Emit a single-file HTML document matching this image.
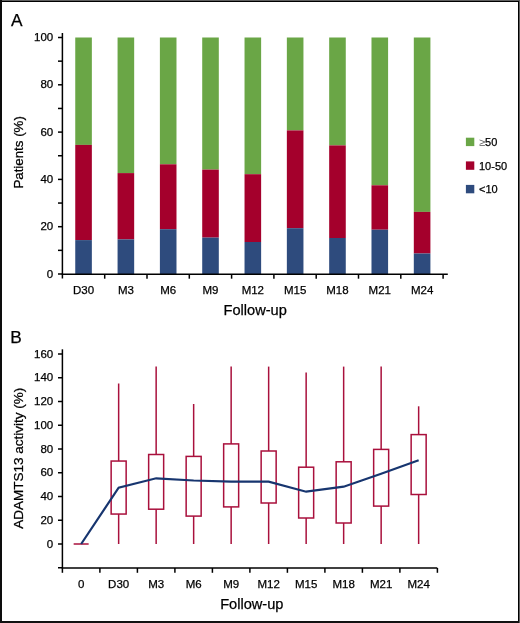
<!DOCTYPE html><html><head><meta charset="utf-8"><style>
html,body{margin:0;padding:0;background:#fff;}
body{width:520px;height:623px;overflow:hidden;position:relative;}
svg{position:absolute;left:0;top:0;will-change:transform;}
text{font-family:"Liberation Sans",sans-serif;fill:#000;stroke:#000;stroke-width:0.25px;}
</style></head><body>
<svg width="520" height="623" viewBox="0 0 520 623">
<rect x="0" y="0" width="520" height="623" fill="#fff"/>
<rect x="75.25" y="37.50" width="16.6" height="107.40" fill="#6aa646"/>
<rect x="75.25" y="144.90" width="16.6" height="95.20" fill="#a4002c"/>
<rect x="75.25" y="240.10" width="16.6" height="33.90" fill="#2e4b7d"/>
<rect x="117.57" y="37.50" width="16.6" height="135.60" fill="#6aa646"/>
<rect x="117.57" y="173.10" width="16.6" height="66.30" fill="#a4002c"/>
<rect x="117.57" y="239.40" width="16.6" height="34.60" fill="#2e4b7d"/>
<rect x="159.89" y="37.50" width="16.6" height="126.80" fill="#6aa646"/>
<rect x="159.89" y="164.30" width="16.6" height="64.90" fill="#a4002c"/>
<rect x="159.89" y="229.20" width="16.6" height="44.80" fill="#2e4b7d"/>
<rect x="202.21" y="37.50" width="16.6" height="132.10" fill="#6aa646"/>
<rect x="202.21" y="169.60" width="16.6" height="68.00" fill="#a4002c"/>
<rect x="202.21" y="237.60" width="16.6" height="36.40" fill="#2e4b7d"/>
<rect x="244.53" y="37.50" width="16.6" height="136.70" fill="#6aa646"/>
<rect x="244.53" y="174.20" width="16.6" height="67.80" fill="#a4002c"/>
<rect x="244.53" y="242.00" width="16.6" height="32.00" fill="#2e4b7d"/>
<rect x="286.85" y="37.50" width="16.6" height="92.90" fill="#6aa646"/>
<rect x="286.85" y="130.40" width="16.6" height="97.80" fill="#a4002c"/>
<rect x="286.85" y="228.20" width="16.6" height="45.80" fill="#2e4b7d"/>
<rect x="329.17" y="37.50" width="16.6" height="107.90" fill="#6aa646"/>
<rect x="329.17" y="145.40" width="16.6" height="92.60" fill="#a4002c"/>
<rect x="329.17" y="238.00" width="16.6" height="36.00" fill="#2e4b7d"/>
<rect x="371.49" y="37.50" width="16.6" height="147.80" fill="#6aa646"/>
<rect x="371.49" y="185.30" width="16.6" height="44.40" fill="#a4002c"/>
<rect x="371.49" y="229.70" width="16.6" height="44.30" fill="#2e4b7d"/>
<rect x="413.81" y="37.50" width="16.6" height="174.40" fill="#6aa646"/>
<rect x="413.81" y="211.90" width="16.6" height="41.60" fill="#a4002c"/>
<rect x="413.81" y="253.50" width="16.6" height="20.50" fill="#2e4b7d"/>
<g stroke="#000" stroke-width="1.5" fill="none">
<line x1="62.4" y1="33" x2="62.4" y2="278.5"/>
<line x1="61.699999999999996" y1="274.3" x2="447.8" y2="274.3"/>
<line x1="58" y1="274.00" x2="62.4" y2="274.00"/>
<line x1="58" y1="250.35" x2="62.4" y2="250.35"/>
<line x1="58" y1="226.70" x2="62.4" y2="226.70"/>
<line x1="58" y1="203.05" x2="62.4" y2="203.05"/>
<line x1="58" y1="179.40" x2="62.4" y2="179.40"/>
<line x1="58" y1="155.75" x2="62.4" y2="155.75"/>
<line x1="58" y1="132.10" x2="62.4" y2="132.10"/>
<line x1="58" y1="108.45" x2="62.4" y2="108.45"/>
<line x1="58" y1="84.80" x2="62.4" y2="84.80"/>
<line x1="58" y1="61.15" x2="62.4" y2="61.15"/>
<line x1="58" y1="37.50" x2="62.4" y2="37.50"/>
<line x1="104.70" y1="274.3" x2="104.70" y2="278.7"/>
<line x1="147.00" y1="274.3" x2="147.00" y2="278.7"/>
<line x1="189.30" y1="274.3" x2="189.30" y2="278.7"/>
<line x1="231.60" y1="274.3" x2="231.60" y2="278.7"/>
<line x1="273.90" y1="274.3" x2="273.90" y2="278.7"/>
<line x1="316.20" y1="274.3" x2="316.20" y2="278.7"/>
<line x1="358.50" y1="274.3" x2="358.50" y2="278.7"/>
<line x1="400.80" y1="274.3" x2="400.80" y2="278.7"/>
<line x1="443.10" y1="274.3" x2="443.10" y2="278.7"/>
</g>
<g font-size="11.5" text-anchor="end">
<text x="53.2" y="277.60">0</text>
<text x="53.2" y="230.30">20</text>
<text x="53.2" y="183.00">40</text>
<text x="53.2" y="135.70">60</text>
<text x="53.2" y="88.40">80</text>
<text x="53.2" y="41.10">100</text>
</g>
<g font-size="11.5" text-anchor="middle">
<text x="83.55" y="294.2">D30</text>
<text x="125.87" y="294.2">M3</text>
<text x="168.19" y="294.2">M6</text>
<text x="210.51" y="294.2">M9</text>
<text x="252.83" y="294.2">M12</text>
<text x="295.15" y="294.2">M15</text>
<text x="337.47" y="294.2">M18</text>
<text x="379.79" y="294.2">M21</text>
<text x="422.11" y="294.2">M24</text>
</g>
<text x="255.2" y="314.6" font-size="14.6" text-anchor="middle">Follow-up</text>
<text transform="translate(23.3,188.6) rotate(-90)" font-size="13.3">Patients (%)</text>
<text x="11" y="26.2" font-size="17.3">A</text>
<rect x="465.9" y="137.7" width="8.4" height="8.4" fill="#6aa646"/>
<text x="479" y="146.10" font-size="11"><tspan fill="#555" stroke="none">≥</tspan>50</text>
<rect x="465.9" y="161.4" width="8.4" height="8.4" fill="#a4002c"/>
<text x="479" y="169.80" font-size="11">10-50</text>
<rect x="465.9" y="184.9" width="8.4" height="8.4" fill="#2e4b7d"/>
<text x="479" y="193.30" font-size="11">&lt;10</text>
<g stroke="#000" stroke-width="1.5" fill="none">
<line x1="62.4" y1="349.3" x2="62.4" y2="572.8"/>
<line x1="61.699999999999996" y1="568" x2="437.3" y2="568"/>
<line x1="58" y1="567.75" x2="62.4" y2="567.75"/>
<line x1="58" y1="544.00" x2="62.4" y2="544.00"/>
<line x1="58" y1="520.25" x2="62.4" y2="520.25"/>
<line x1="58" y1="496.50" x2="62.4" y2="496.50"/>
<line x1="58" y1="472.75" x2="62.4" y2="472.75"/>
<line x1="58" y1="449.00" x2="62.4" y2="449.00"/>
<line x1="58" y1="425.25" x2="62.4" y2="425.25"/>
<line x1="58" y1="401.50" x2="62.4" y2="401.50"/>
<line x1="58" y1="377.75" x2="62.4" y2="377.75"/>
<line x1="58" y1="354.00" x2="62.4" y2="354.00"/>
<line x1="99.90" y1="568" x2="99.90" y2="572.8"/>
<line x1="137.40" y1="568" x2="137.40" y2="572.8"/>
<line x1="174.90" y1="568" x2="174.90" y2="572.8"/>
<line x1="212.40" y1="568" x2="212.40" y2="572.8"/>
<line x1="249.90" y1="568" x2="249.90" y2="572.8"/>
<line x1="287.40" y1="568" x2="287.40" y2="572.8"/>
<line x1="324.90" y1="568" x2="324.90" y2="572.8"/>
<line x1="362.40" y1="568" x2="362.40" y2="572.8"/>
<line x1="399.90" y1="568" x2="399.90" y2="572.8"/>
<line x1="437.40" y1="568" x2="437.40" y2="572.8"/>
</g>
<g font-size="11.5" text-anchor="end">
<text x="53.2" y="547.60">0</text>
<text x="53.2" y="523.85">20</text>
<text x="53.2" y="500.10">40</text>
<text x="53.2" y="476.35">60</text>
<text x="53.2" y="452.60">80</text>
<text x="53.2" y="428.85">100</text>
<text x="53.2" y="405.10">120</text>
<text x="53.2" y="381.35">140</text>
<text x="53.2" y="357.60">160</text>
</g>
<g font-size="11.5" text-anchor="middle">
<text x="81.15" y="588">0</text>
<text x="118.65" y="588">D30</text>
<text x="156.15" y="588">M3</text>
<text x="193.65" y="588">M6</text>
<text x="231.15" y="588">M9</text>
<text x="268.65" y="588">M12</text>
<text x="306.15" y="588">M15</text>
<text x="343.65" y="588">M18</text>
<text x="381.15" y="588">M21</text>
<text x="418.65" y="588">M24</text>
</g>
<text x="251.8" y="608.9" font-size="14.6" text-anchor="middle">Follow-up</text>
<text transform="translate(22.7,528.8) rotate(-90)" font-size="13.5">ADAMTS13 activity (%)</text>
<text x="10.2" y="342.9" font-size="17.3">B</text>
<g stroke="#a9103c" stroke-width="1.5" fill="none">
<line x1="73.65" y1="544.0" x2="88.65" y2="544.0"/>
<line x1="118.65" y1="383.5" x2="118.65" y2="461.05"/>
<line x1="118.65" y1="514.05" x2="118.65" y2="544"/>
<rect x="111.15" y="461.05" width="15.0" height="53.00"/>
<line x1="156.15" y1="366.6" x2="156.15" y2="454.5"/>
<line x1="156.15" y1="509.2" x2="156.15" y2="544"/>
<rect x="148.65" y="454.5" width="15.0" height="54.70"/>
<line x1="193.65" y1="404.0" x2="193.65" y2="456.4"/>
<line x1="193.65" y1="516.1" x2="193.65" y2="544"/>
<rect x="186.15" y="456.4" width="15.0" height="59.70"/>
<line x1="231.15" y1="366.6" x2="231.15" y2="443.9"/>
<line x1="231.15" y1="506.9" x2="231.15" y2="544"/>
<rect x="223.65" y="443.9" width="15.0" height="63.00"/>
<line x1="268.65" y1="366.6" x2="268.65" y2="451.0"/>
<line x1="268.65" y1="503.0" x2="268.65" y2="544"/>
<rect x="261.15" y="451.0" width="15.0" height="52.00"/>
<line x1="306.15" y1="372.4" x2="306.15" y2="467.2"/>
<line x1="306.15" y1="518.0" x2="306.15" y2="544"/>
<rect x="298.65" y="467.2" width="15.0" height="50.80"/>
<line x1="343.65" y1="366.6" x2="343.65" y2="461.8"/>
<line x1="343.65" y1="523.0" x2="343.65" y2="544"/>
<rect x="336.15" y="461.8" width="15.0" height="61.20"/>
<line x1="381.15" y1="366.6" x2="381.15" y2="449.4"/>
<line x1="381.15" y1="506.1" x2="381.15" y2="544"/>
<rect x="373.65" y="449.4" width="15.0" height="56.70"/>
<line x1="418.65" y1="406.3" x2="418.65" y2="434.6"/>
<line x1="418.65" y1="494.5" x2="418.65" y2="544"/>
<rect x="411.15" y="434.6" width="15.0" height="59.90"/>
</g>
<polyline points="81.15,544 118.65,487.7 156.15,478.3 193.65,480.5 231.15,481.6 268.65,481.6 306.15,491.7 343.65,486.7 381.15,473.8 418.65,460.3" fill="none" stroke="#17356f" stroke-width="2.2" stroke-linejoin="miter"/>
<rect x="0" y="0" width="520" height="1" fill="#606060"/>
<rect x="0" y="1" width="519" height="1" fill="#000"/>
<rect x="0" y="0" width="2" height="623" fill="#0d0d0d"/>
<rect x="518" y="1" width="1" height="622" fill="#000"/>
<rect x="519" y="0" width="1" height="623" fill="#606060"/>
<rect x="0" y="621" width="519" height="2" fill="#111"/>
</svg></body></html>
